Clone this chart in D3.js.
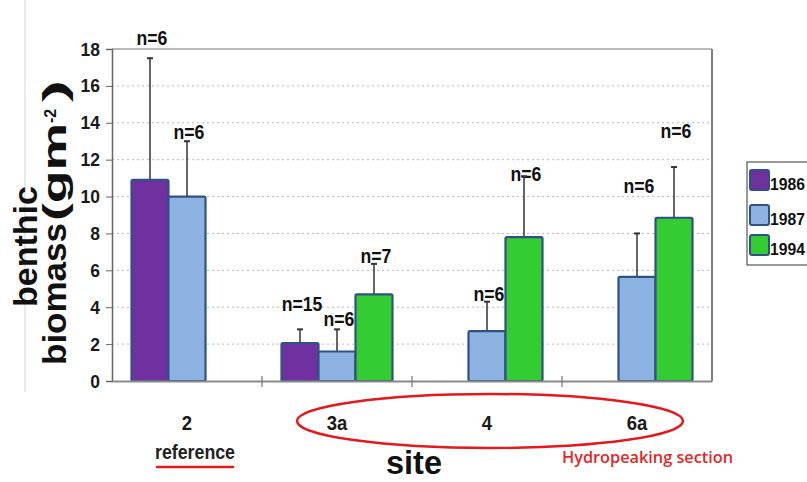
<!DOCTYPE html>
<html>
<head>
<meta charset="utf-8">
<script src="https://cdn.jsdelivr.net/npm/d3@7"></script>
<style>
  html, body { margin: 0; padding: 0; background: #fff; }
  svg { display: block; font-family: "Liberation Sans", Arial, sans-serif; }
</style>
</head>
<body>
<script>
// Benthic biomass per site and sampling year (mean, SD, sample size)
const sites = ["2", "3a", "4", "6a"];
const years = ["1986", "1987", "1994"];
const mean1986 = [10.9, 2.05, null, null];
const mean1987 = [10.0, 1.6, 2.7, 5.65];
const mean1994 = [null, 4.7, 7.8, 8.85];
const sd1986 = [6.6, 0.75, null, null];
const sd1987 = [3.0, 1.2, 1.6, 2.35];
const sd1994 = [null, 1.65, 3.3, 2.75];
const n1986 = [6, 15, null, null];
const n1987 = [6, 6, 6, 6];
const n1994 = [null, 7, 6, 6];
// biomass level at which each "n=" note is written
const nAt1986 = [18.2, 3.8, null, null];
const nAt1987 = [13.1, 3.0, 4.35, 10.2];
const nAt1994 = [null, 6.4, 10.85, 13.2];
const yTicks = [0, 2, 4, 6, 8, 10, 12, 14, 16, 18];
const siteNotes = { "2": "reference" };

const colors = { "1986": "#7030A0", "1987": "#8DB3E2", "1994": "#33CC33" };
const edge = "#2F5282";

const bySeries = {
  "1986": { mean: mean1986, sd: sd1986, n: n1986, at: nAt1986 },
  "1987": { mean: mean1987, sd: sd1987, n: n1987, at: nAt1987 },
  "1994": { mean: mean1994, sd: sd1994, n: n1994, at: nAt1994 }
};
const records = [];
years.forEach(yr => sites.forEach((s, i) => {
  const d = bySeries[yr];
  if (d.mean[i] != null) records.push({ site: s, year: yr, mean: d.mean[i], sd: d.sd[i], n: d.n[i], at: d.at[i] });
}));

const W = 807, H = 482;
const svg = d3.select("body").append("svg").attr("width", W).attr("height", H);

const x = d3.scaleBand().domain(sites).range([112, 712]).padding(0);
const x1 = d3.scaleBand().domain(years).range([0, x.bandwidth()]).paddingInner(0).paddingOuter(0.527);
const y = d3.scaleLinear().domain([0, 18]).range([381, 49]);

// squeeze a text horizontally to a fraction of its natural width
function condense(sel, k) {
  sel.each(function () {
    const len = this.getComputedTextLength();
    d3.select(this).attr("textLength", len * k).attr("lengthAdjust", "spacingAndGlyphs");
  });
}

// faint page rule on the far left
svg.append("line").attr("x1", 25).attr("x2", 25).attr("y1", 0).attr("y2", 392)
  .attr("stroke", "#d4d4d4").attr("stroke-width", 1);

// dotted gridlines
svg.append("g").selectAll("line").data(yTicks.filter(t => t > 0 && t < 18)).join("line")
  .attr("x1", x.range()[0]).attr("x2", x.range()[1])
  .attr("y1", d => y(d)).attr("y2", d => y(d))
  .attr("stroke", "#b9b9b9").attr("stroke-width", 1).attr("stroke-dasharray", "2,3");

// plot frame (top and right)
svg.append("line").attr("x1", 112).attr("x2", 712).attr("y1", y(18)).attr("y2", y(18))
  .attr("stroke", "#777").attr("stroke-width", 1.2);
svg.append("line").attr("x1", 712).attr("x2", 712).attr("y1", y(18)).attr("y2", y(0))
  .attr("stroke", "#555").attr("stroke-width", 1.5);

const bx = d => x(d.site) + x1(d.year);

// sample-size notes
const nLabels = svg.append("g").selectAll("text").data(records).join("text")
  .attr("x", d => bx(d) + x1.bandwidth() / 2 + 2)
  .attr("y", d => y(d.at))
  .attr("text-anchor", "middle")
  .attr("font-size", 21).attr("font-weight", "bold").attr("fill", "#111")
  .text(d => "n=" + d.n);
condense(nLabels, 0.84);

// error bars (upper only)
const eb = svg.append("g").selectAll("g").data(records).join("g");
eb.append("line")
  .attr("x1", d => bx(d) + x1.bandwidth() / 2).attr("x2", d => bx(d) + x1.bandwidth() / 2)
  .attr("y1", d => y(d.mean)).attr("y2", d => y(d.mean + d.sd))
  .attr("stroke", "#333").attr("stroke-width", 1.5);
eb.append("line")
  .attr("x1", d => bx(d) + x1.bandwidth() / 2 - 3).attr("x2", d => bx(d) + x1.bandwidth() / 2 + 3)
  .attr("y1", d => y(d.mean + d.sd)).attr("y2", d => y(d.mean + d.sd))
  .attr("stroke", "#333").attr("stroke-width", 2);

// bars
svg.append("g").selectAll("rect").data(records).join("rect")
  .attr("x", d => bx(d)).attr("width", x1.bandwidth())
  .attr("y", d => y(d.mean)).attr("height", d => y(0) - y(d.mean))
  .attr("rx", 1.5)
  .attr("fill", d => colors[d.year]).attr("stroke", edge).attr("stroke-width", 2.2);

// y axis
const yAxis = svg.append("g").attr("transform", "translate(112,0)")
  .call(d3.axisLeft(y).tickValues(yTicks).tickSize(6).tickPadding(6).tickFormat(d3.format("d")));
yAxis.select(".domain").attr("stroke", "#666").attr("stroke-width", 1.5);
yAxis.selectAll(".tick line").attr("stroke", "#666");
yAxis.selectAll(".tick text").attr("font-size", 19).attr("font-weight", "bold").attr("fill", "#1a1a1a")
  .attr("font-family", "Liberation Sans, Arial, sans-serif");
condense(yAxis.selectAll(".tick text"), 0.92);

// x axis
const xAxis = svg.append("g").attr("transform", `translate(0,${y(0)})`)
  .call(d3.axisBottom(x).tickSize(0).tickPadding(34));
xAxis.select(".domain").attr("stroke", "#8a8a8a").attr("stroke-width", 2);
xAxis.selectAll(".tick text").attr("font-size", 21).attr("font-weight", "bold").attr("fill", "#1a1a1a")
  .attr("font-family", "Liberation Sans, Arial, sans-serif");
condense(xAxis.selectAll(".tick text"), 0.88);
// category separators
svg.append("g").selectAll("line").data(sites.slice(1)).join("line")
  .attr("x1", d => x(d)).attr("x2", d => x(d))
  .attr("y1", y(0) - 5).attr("y2", y(0) + 6)
  .attr("stroke", "#777").attr("stroke-width", 1.2);

// note under the reference site
const refG = svg.append("g");
Object.entries(siteNotes).forEach(([s, note]) => {
  const cx = x(s) + x.bandwidth() / 2 + 8;
  refG.append("text").attr("x", cx).attr("y", 459).attr("text-anchor", "middle")
    .attr("font-size", 21).attr("font-weight", "bold").attr("fill", "#222")
    .attr("textLength", 80).attr("lengthAdjust", "spacingAndGlyphs").text(note);
  refG.append("line").attr("x1", cx - 38).attr("x2", cx + 38).attr("y1", 467).attr("y2", 467)
    .attr("stroke", "#E3191C").attr("stroke-width", 2.5).attr("stroke-linecap", "round");
});

// hydropeaking section outline
const hp = sites.slice(1);
const hpLeft = x(hp[0]) + 35, hpRight = x(hp[hp.length - 1]) + x.bandwidth() - 29;
svg.append("ellipse")
  .attr("cx", (hpLeft + hpRight) / 2).attr("cy", 421)
  .attr("rx", (hpRight - hpLeft) / 2).attr("ry", 27)
  .attr("fill", "none").attr("stroke", "#E3191C").attr("stroke-width", 2.5);
svg.append("text").attr("x", 562).attr("y", 463)
  .attr("font-family", "Open Sans, Noto Sans, sans-serif").attr("font-size", 17).attr("font-weight", 600)
  .attr("fill", "#E3262A").attr("textLength", 171).attr("lengthAdjust", "spacingAndGlyphs")
  .text("Hydropeaking section");

// axis titles
svg.append("text").attr("x", 414).attr("y", 474).attr("text-anchor", "middle")
  .attr("font-size", 34).attr("font-weight", "bold").attr("fill", "#111")
  .attr("textLength", 56).attr("lengthAdjust", "spacingAndGlyphs").text("site");

svg.append("text").attr("transform", "translate(37,307) rotate(-90)")
  .attr("font-size", 34).attr("font-weight", "bold").attr("fill", "#111")
  .attr("textLength", 121).attr("lengthAdjust", "spacingAndGlyphs").text("benthic");
svg.append("text").attr("transform", "translate(66,365) rotate(-90)")
  .attr("font-size", 34).attr("font-weight", "bold").attr("fill", "#111")
  .attr("textLength", 142).attr("lengthAdjust", "spacingAndGlyphs").text("biomass");
svg.append("text").attr("transform", "translate(66,221) rotate(-90)")
  .attr("font-size", 34).attr("font-weight", "bold").attr("fill", "#111")
  .attr("textLength", 98).attr("lengthAdjust", "spacingAndGlyphs").text("(gm");
svg.append("text").attr("transform", "translate(56,123) rotate(-90)")
  .attr("font-size", 16).attr("font-weight", "bold").attr("fill", "#111").text("-2");
svg.append("text").attr("transform", "translate(66,102) rotate(-90)")
  .attr("font-size", 34).attr("font-weight", "bold").attr("fill", "#111")
  .attr("textLength", 22).attr("lengthAdjust", "spacingAndGlyphs").text(")");

// legend
const lg = svg.append("g");
lg.append("rect").attr("x", 747).attr("y", 162).attr("width", 70).attr("height", 103)
  .attr("fill", "#fff").attr("stroke", "#555").attr("stroke-width", 1.2);
const items = lg.selectAll("g.item").data(years).join("g").attr("class", "item")
  .attr("transform", (d, i) => `translate(750,${[170, 205, 235][i]})`);
items.append("rect").attr("width", 19).attr("height", 20).attr("rx", 2)
  .attr("fill", d => colors[d]).attr("stroke", edge).attr("stroke-width", 2);
items.append("text").attr("x", 20).attr("y", 20)
  .attr("font-size", 16).attr("font-weight", "bold").attr("fill", "#111")
  .attr("textLength", 35).attr("lengthAdjust", "spacingAndGlyphs").text(d => d);
</script>
</body>
</html>
